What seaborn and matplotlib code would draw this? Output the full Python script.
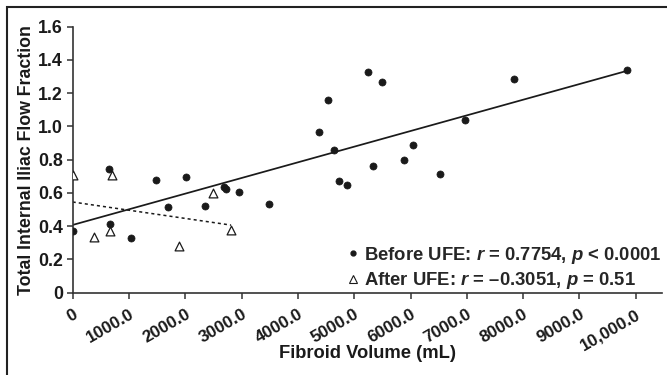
import numpy as np
import pandas as pd
import seaborn as sns
import matplotlib
matplotlib.use("Agg")
import matplotlib.pyplot as plt
from matplotlib.lines import Line2D
from matplotlib.patches import Rectangle
from matplotlib.transforms import ScaledTranslation

# Fibroid volume (mL) vs. total internal iliac flow fraction
before_volume = [0, 639, 663, 1030, 1480, 1698, 2007, 2344, 2693, 2717, 2948,
                 3481, 4380, 4540, 4647, 4730, 4872, 5251, 5334, 5488, 5890,
                 6044, 6530, 6974, 7844, 9846]
before_flow = [0.369, 0.743, 0.413, 0.329, 0.675, 0.515, 0.697, 0.523, 0.637,
               0.623, 0.607, 0.531, 0.967, 1.159, 0.857, 0.673, 0.647, 1.326,
               0.765, 1.265, 0.801, 0.891, 0.713, 1.041, 1.288, 1.342]

after_volume = [0, 378, 663, 704, 1883, 2498, 2812]
after_flow = [0.709, 0.333, 0.372, 0.709, 0.282, 0.597, 0.375]

x_ticks = [0, 1000, 2000, 3000, 4000, 5000, 6000, 7000, 8000, 9000, 10000]
x_tick_labels = ["0", "1000.0", "2000.0", "3000.0", "4000.0", "5000.0",
                 "6000.0", "7000.0", "8000.0", "9000.0", "10,000.0"]
y_ticks = [0, 0.2, 0.4, 0.6, 0.8, 1.0, 1.2, 1.4, 1.6]
y_tick_labels = ["0", "0.2", "0.4", "0.6", "0.8", "1.0", "1.2", "1.4", "1.6"]

legend_before = "Before UFE: $r$ = 0.7754, $p$ < 0.0001"
legend_after = "After UFE: $r$ = \u20130.3051, $p$ = 0.51"

sns.set_style("ticks")
plt.rcParams["font.family"] = ["Liberation Sans", "DejaVu Sans"]
plt.rcParams["font.weight"] = "bold"
plt.rcParams["mathtext.fontset"] = "custom"
plt.rcParams["mathtext.it"] = "Liberation Sans:italic:bold"
plt.rcParams["mathtext.rm"] = "Liberation Sans:bold"

before_df = pd.DataFrame({"volume": before_volume, "flow": before_flow})
after_df = pd.DataFrame({"volume": after_volume, "flow": after_flow})

ink = "#1a1a1a"
fig = plt.figure(figsize=(6.67, 3.75), dpi=100)
ax = fig.add_axes([72.7 / 667, 1 - 292.7 / 375, 589 / 667, 266 / 375])

# regression lines
sns.regplot(data=before_df, x="volume", y="flow", scatter=False, ci=None,
            ax=ax, line_kws=dict(color=ink, lw=1.25))
sns.regplot(data=after_df, x="volume", y="flow", scatter=False, ci=None,
            ax=ax, line_kws=dict(color=ink, lw=1.1, linestyle=(0, (2, 2))))

# measurements
sns.scatterplot(data=before_df, x="volume", y="flow", ax=ax, marker="o",
                s=26, color=ink, edgecolor=ink, linewidth=0.5, zorder=3)
sns.scatterplot(data=after_df, x="volume", y="flow", ax=ax, marker="^",
                s=40, facecolor="white", edgecolor=ink, linewidth=0.9, zorder=3)

ax.set_xlim(0, 10460)
ax.set_ylim(0, 1.6)
sns.despine(ax=ax)
for side in ("left", "bottom"):
    ax.spines[side].set_color("#333333")
    ax.spines[side].set_linewidth(1.2)

ax.set_xticks(x_ticks)
ax.set_xticklabels(x_tick_labels, rotation=30, ha="right", va="top",
                   rotation_mode="anchor", fontsize=12.3, fontweight="bold")
shift = ScaledTranslation(5 / 100, 0, fig.dpi_scale_trans)
for lbl in ax.get_xticklabels():
    lbl.set_transform(lbl.get_transform() + shift)
ax.set_yticks(y_ticks)
ax.set_yticklabels(y_tick_labels, fontsize=12.8, fontweight="bold")
ax.tick_params(axis="both", direction="out", length=4, width=1.1,
               color="#333333", labelcolor=ink)
ax.tick_params(axis="x", pad=6)
ax.tick_params(axis="y", pad=3)

ax.set_xlabel("Fibroid Volume (mL)", fontsize=13.2, fontweight="bold", color=ink)
ax.set_ylabel("Total Internal Iliac Flow Fraction", fontsize=12.8,
              fontweight="bold", color=ink)
ax.xaxis.set_label_coords(0.5, -0.195)
ax.yaxis.set_label_coords(-0.064, 0.5)

handles = [
    Line2D([], [], linestyle="none", marker="o", markersize=3.5,
           color=ink),
    Line2D([], [], linestyle="none", marker="^", markersize=5.5,
           markerfacecolor="white", markeredgecolor=ink, markeredgewidth=0.8),
]
ax.legend(handles, [legend_before, legend_after], loc="lower right",
          bbox_to_anchor=(1.0, 0.005), frameon=False, borderpad=0,
          borderaxespad=0, handlelength=0.5, handletextpad=0.35,
          labelspacing=0.25, prop=dict(size=13.3, weight="bold"))

# frame around the figure
fig.add_artist(Rectangle((6.5 / 667, -0.1), 1.2, 1.1 - 6.5 / 375,
                         transform=fig.transFigure, fill=False,
                         lw=1.5, ec="#222222"))

fig.savefig("out.png", dpi=100)
